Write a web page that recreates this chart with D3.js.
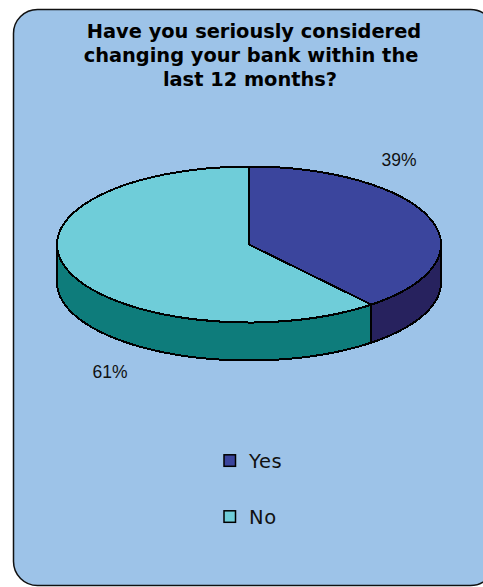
<!DOCTYPE html>
<html>
<head>
<meta charset="utf-8">
<script src="https://cdn.jsdelivr.net/npm/d3@7/dist/d3.min.js"></script>
<style>
html,body{margin:0;padding:0;background:#fff;overflow:hidden}
svg{display:block}
</style>
</head>
<body>
<svg id="chart" width="483" height="587"></svg>
<script>
const categories = ["Yes", "No"];
const shares = [39, 61];
const titleLines = ["Have you seriously considered", "changing your bank within the", "last 12 months?"];
const topColors = ["#3b459d", "#6fcdd9"];
const sideColors = ["#27225e", "#0e7c7b"];

const svg = d3.select("#chart");

// Rounded panel behind everything
svg.append("rect")
  .attr("x", 13.5).attr("y", 9.5)
  .attr("width", 481).attr("height", 576)
  .attr("rx", 24).attr("ry", 24)
  .attr("fill", "#9dc3e8")
  .attr("stroke", "#111").attr("stroke-width", 1.5);

// Title, with each line nudged the way the original layout centres it
const titleX = [254, 251, 250];
svg.append("g").selectAll("text").data(titleLines).join("text")
  .attr("x", (d, i) => titleX[i])
  .attr("y", (d, i) => 38 + i * 24)
  .attr("text-anchor", "middle")
  .attr("font-family", "'DejaVu Sans', Verdana, sans-serif")
  .attr("font-weight", "bold")
  .attr("font-size", 19.4)
  .attr("fill", "#000")
  .text(d => d);

// Tilted pie: a circular pie squashed vertically, with a wall under its front edge
const cx = 249, cy = 244.5, rx = 192, ry = 78, depth = 38;
const pie = d3.pie().sort(null)(shares);
const px = a => cx + rx * Math.sin(a);
const py = a => cy - ry * Math.cos(a);

const line = d3.line();
function wall(a0, a1) {
  const steps = d3.range(0, 61).map(i => a0 + (a1 - a0) * i / 60);
  const upper = steps.map(a => [px(a), py(a)]);
  const lower = steps.slice().reverse().map(a => [px(a), py(a) + depth]);
  return line(upper.concat(lower)) + "Z";
}

const walls = [
  [Math.PI / 2, pie[0].endAngle],
  [pie[1].startAngle, Math.PI * 1.5]
];
const chart = svg.append("g").attr("shape-rendering", "crispEdges");
chart.selectAll("path.wall").data(walls).join("path")
  .attr("class", "wall")
  .attr("d", d => wall(d[0], d[1]))
  .attr("fill", (d, i) => sideColors[i])
  .attr("stroke", "#000").attr("stroke-width", 2)
  .attr("stroke-linejoin", "round");

const arc = d3.arc().innerRadius(0).outerRadius(rx);
chart.selectAll("path.top").data(pie).join("path")
  .attr("class", "top")
  .attr("d", arc)
  .attr("transform", `translate(${cx},${cy}) scale(1,${ry / rx})`)
  .attr("vector-effect", "non-scaling-stroke")
  .attr("fill", (d, i) => topColors[i])
  .attr("stroke", "#000").attr("stroke-width", 2)
  .attr("stroke-linejoin", "round");

// Percentage labels
const labelPos = [[399, 166], [110, 378]];
svg.append("g").selectAll("text").data(shares).join("text")
  .attr("x", (d, i) => labelPos[i][0])
  .attr("y", (d, i) => labelPos[i][1])
  .attr("text-anchor", "middle")
  .attr("font-family", "'Liberation Sans', Arial, sans-serif")
  .attr("font-size", 17.5)
  .attr("fill", "#111")
  .text(d => d + "%");

// Legend
const legend = svg.append("g").selectAll("g").data(categories).join("g")
  .attr("transform", (d, i) => `translate(224,${454.8 + i * 56})`);
legend.append("rect")
  .attr("width", 11.5).attr("height", 11.5)
  .attr("fill", (d, i) => topColors[i])
  .attr("stroke", "#000").attr("stroke-width", 1.5);
legend.append("text")
  .attr("x", 25).attr("y", 13)
  .attr("font-family", "'DejaVu Sans', Verdana, sans-serif")
  .attr("font-size", 19.5)
  .attr("letter-spacing", 0.6)
  .attr("fill", "#111")
  .text(d => d);
</script>
</body>
</html>
